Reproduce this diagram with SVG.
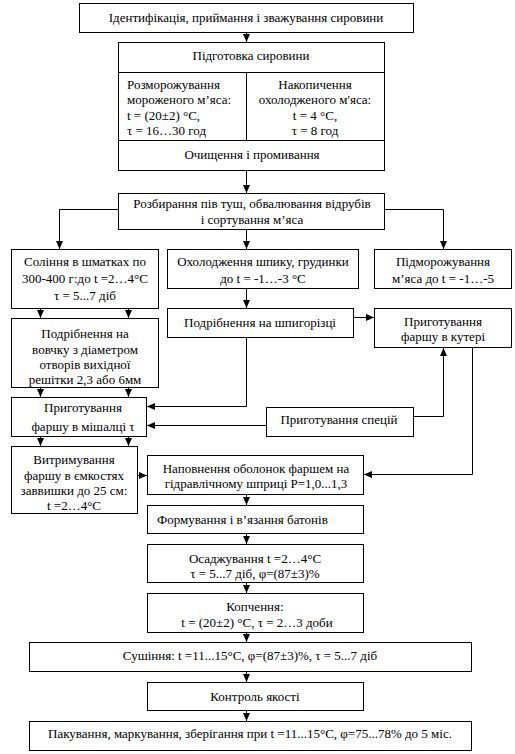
<svg xmlns="http://www.w3.org/2000/svg" width="515" height="754" viewBox="0 0 515 754">
<style>
rect{fill:#fff;stroke:#000;stroke-width:1}
.ln{fill:none;stroke:#000;stroke-width:1}
text{font-family:"Liberation Serif","Times New Roman",serif;font-size:13px;fill:#000}
.c{text-anchor:middle}
</style>
<defs>
<marker id="ah" markerUnits="userSpaceOnUse" markerWidth="9" markerHeight="8" refX="8" refY="4" orient="auto">
<path d="M0,0.5 L8,4 L0,7.5 z" fill="#000"/>
</marker>
</defs>
<rect width="515" height="754" style="stroke:none"/>
<g id="connectors" class="ln" marker-end="url(#ah)">
<path d="M246.5,32 V42"/>
<path d="M246.5,170 V193"/>
<path d="M118,209.5 H59.5 V249"/>
<path d="M384,209.5 H443.5 V249"/>
<path d="M246.5,229 V249"/>
<path d="M40.5,308 V318"/>
<path d="M128.5,308 V318"/>
<path d="M246.5,288 V308"/>
<path d="M353,317.5 H374"/>
<path d="M246.5,337 V406.5 H147"/>
<path d="M40.5,387 V397"/>
<path d="M128.5,387 V397"/>
<path d="M266,425.5 H147"/>
<path d="M413,416.5 H443.5 V348"/>
<path d="M472.5,347 V474.5 H364"/>
<path d="M40.5,436 V446"/>
<path d="M128.5,436 V446"/>
<path d="M137,475.5 H147"/>
<path d="M246.5,494 V505"/>
<path d="M246.5,533 V544"/>
<path d="M246.5,582 V593"/>
<path d="M246.5,632 V642"/>
<path d="M246.5,671 V682"/>
<path d="M246.5,710 V721"/>
</g>
<g id="n1"><rect x="79.5" y="3.5" width="334" height="29"/><text class="c" x="246" y="22">Ідентифікація, приймання і зважування сировини</text></g>
<g id="n2"><rect x="118.5" y="42.5" width="266" height="128"/>
<path class="ln" d="M118.5,72.5 H384.5 M118.5,140.5 H384.5 M246.5,72.5 V140.5"/>
<text class="c" x="251" y="60">Підготовка сировини</text>
<text x="127" y="89">Розморожування</text>
<text x="127" y="104">мороженого м’яса:</text>
<text x="127" y="120">t = (20±2) °C,</text>
<text x="127" y="135">τ = 16…30 год</text>
<text class="c" x="315" y="89">Накопичення</text>
<text class="c" x="315" y="104">охолодженого м'яса:</text>
<text class="c" x="315" y="120">t = 4 °C,</text>
<text class="c" x="315" y="135">τ = 8 год</text>
<text class="c" x="252" y="159">Очищення і промивання</text>
</g>
<g id="n3"><rect x="118.5" y="193.5" width="266" height="36"/><text class="c" x="252" y="208">Розбирання пів туш, обвалювання відрубів</text><text class="c" x="252" y="224">і сортування м’яса</text></g>
<g id="n4"><rect x="11.5" y="249.5" width="147" height="59"/><text class="c" x="85" y="266">Соління в шматках по</text><text class="c" x="85" y="283">300-400 г:до t =2…4°C</text><text class="c" x="85" y="300">τ = 5...7 діб</text></g>
<g id="n5"><rect x="167.5" y="249.5" width="191" height="39"/><text class="c" x="263" y="266">Охолодження шпику, грудинки</text><text class="c" x="263" y="283">до t = -1…-3 °C</text></g>
<g id="n6"><rect x="374.5" y="249.5" width="137" height="39"/><text class="c" x="443" y="266">Підморожування</text><text class="c" x="443" y="283">м’яса до t = -1…-5</text></g>
<g id="n7"><rect x="11.5" y="318.5" width="147" height="69"/><text class="c" x="85" y="338">Подрібнення на</text><text class="c" x="85" y="354">вовчку з діаметром</text><text class="c" x="85" y="369">отворів вихідної</text><text class="c" x="85" y="384">решітки 2,3 або 6мм</text></g>
<g id="n8"><rect x="167.5" y="308.5" width="186" height="29"/><text class="c" x="260" y="327">Подрібнення на шпигорізці</text></g>
<g id="n9"><rect x="374.5" y="308.5" width="137" height="39"/><text class="c" x="443" y="326">Приготування</text><text class="c" x="443" y="341">фаршу в кутері</text></g>
<g id="n10"><rect x="11.5" y="397.5" width="135" height="39"/><text class="c" x="83" y="412">Приготування</text><text class="c" x="83" y="431">фаршу в мішалці τ</text></g>
<g id="n11"><rect x="266.5" y="407.5" width="147" height="29"/><text class="c" x="339" y="424">Приготування спецій</text></g>
<g id="n12"><rect x="11.5" y="446.5" width="126" height="67"/><text class="c" x="74" y="464">Витримування</text><text class="c" x="74" y="480">фаршу в ємкостях</text><text class="c" x="74" y="495">заввишки до 25 см:</text><text class="c" x="74" y="510">t =2…4°C</text></g>
<g id="n13"><rect x="147.5" y="455.5" width="216" height="39"/><text class="c" x="256" y="473">Наповнення оболонок фаршем на</text><text class="c" x="256" y="488">гідравлічному шприці Р=1,0...1,3</text></g>
<g id="n14"><rect x="147.5" y="505.5" width="216" height="28"/><text x="157" y="524">Формування і в’язання батонів</text></g>
<g id="n15"><rect x="147.5" y="544.5" width="216" height="38"/><text class="c" x="255" y="563">Осаджування t =2…4°C</text><text class="c" x="255" y="578">τ = 5...7 діб, φ=(87±3)%</text></g>
<g id="n16"><rect x="147.5" y="593.5" width="216" height="39"/><text class="c" x="255" y="611">Копчення:</text><text class="c" x="257" y="627">t = (20±2) °C, τ = 2…3 доби</text></g>
<g id="n17"><rect x="29.5" y="642.5" width="442" height="29"/><text class="c" x="250" y="660">Сушіння: t =11...15°C, φ=(87±3)%, τ = 5...7 діб</text></g>
<g id="n18"><rect x="147.5" y="682.5" width="216" height="28"/><text class="c" x="255" y="701">Контроль якості</text></g>
<g id="n19"><rect x="29.5" y="721.5" width="442" height="29"/><text class="c" x="250" y="738">Пакування, маркування, зберігання при t =11...15°C, φ=75...78%  до 5 міс.</text></g>
</svg>
